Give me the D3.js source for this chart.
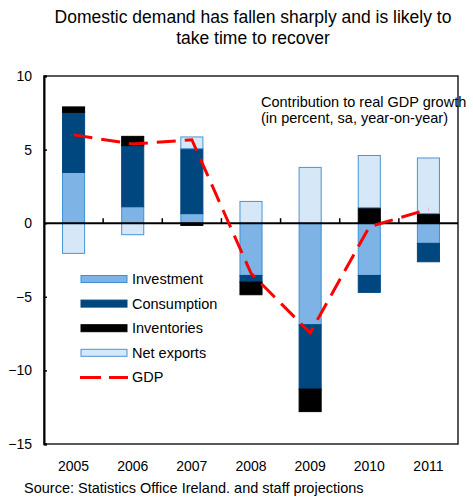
<!DOCTYPE html>
<html>
<head>
<meta charset="utf-8">
<script src="https://cdn.jsdelivr.net/npm/d3@7"></script>
<style>
  body { margin: 0; background: #fff; }
  text { font-family: "Liberation Sans", Arial, sans-serif; fill: #000; }
</style>
</head>
<body>
<div id="canvas"></div>
<script>
"use strict"

// Data (contribution to real GDP growth, percent)
let years = ["2005", "2006", "2007", "2008", "2009", "2010", "2011"];
let investment  = [3.45, 1.12, 0.65, -3.55, -6.9, -3.55, -1.37];
let consumption = [4.08, 4.15, 4.41, -0.45, -4.37, -1.15, -1.25];
let inventories = [0.37, 0.63, -0.15, -0.86, -1.53, 1.05, 0.65];
let netExports  = [-2.05, -0.78, 0.8, 1.48, 3.79, 3.55, 3.78];
let gdp         = [6.0, 5.38, 5.67, -3.4, -7.45, -0.25, 0.95];
let yTicks = [10, 5, 0, -5, -10, -15];

let seriesNames = ["Investment", "Consumption", "Inventories", "Net exports"];
let seriesValues = [investment, consumption, inventories, netExports];
let fills = ["#7db4e5", "#00467f", "#000000", "#d6e8f8"];
let strokes = ["#3d8fd6", "#00467f", "#000000", "#4a94d6"];

let svgWidth = 473;
let svgHeight = 498;
let margin = { top: 76, right: 15, bottom: 54, left: 44 };

let svg = d3.select("#canvas")
    .append("svg")
    .attr("width", svgWidth)
    .attr("height", svgHeight);

let xScale = d3.scaleBand()
    .domain(years)
    .range([margin.left, svgWidth - margin.right])
    .paddingInner(0.61)
    .paddingOuter(0.305);

let yScale = d3.scaleLinear()
    .domain([-15, 10])
    .range([svgHeight - margin.bottom, margin.top]);

// title
svg.append("text")
    .attr("x", 253).attr("y", 23)
    .attr("text-anchor", "middle")
    .style("font-size", "17.5px")
    .text("Domestic demand has fallen sharply and is likely to");
svg.append("text")
    .attr("x", 253).attr("y", 44)
    .attr("text-anchor", "middle")
    .style("font-size", "17.5px")
    .text("take time to recover");

// diverging stacks: positives up from 0, negatives down from 0
let table = years.map(function(y, i) {
    let row = { year: y };
    seriesNames.forEach(function(name, s) { row[name] = seriesValues[s][i]; });
    return row;
});
let stacked = d3.stack()
    .keys(seriesNames)
    .offset(d3.stackOffsetDiverging)(table);

stacked.forEach(function(layer, s) {
    svg.append("g")
        .selectAll("rect")
        .data(layer)
        .join("rect")
        .attr("x", function(d) { return xScale(d.data.year) + 0.5; })
        .attr("width", xScale.bandwidth() - 1)
        .attr("y", function(d) { return yScale(Math.max(d[0], d[1])); })
        .attr("height", function(d) { return Math.abs(yScale(d[0]) - yScale(d[1])); })
        .attr("fill", fills[s])
        .attr("stroke", strokes[s])
        .attr("stroke-width", 1);
});

// frame
let x0 = margin.left, x1 = svgWidth - margin.right;
let yTop = yScale(10), yBot = yScale(-15);
svg.append("rect")
    .attr("x", x0).attr("y", yTop)
    .attr("width", x1 - x0).attr("height", yBot - yTop)
    .attr("fill", "none")
    .attr("stroke", "#222")
    .attr("stroke-width", 1.5);

// zero line with category ticks
svg.append("line")
    .attr("x1", x0).attr("x2", x1)
    .attr("y1", yScale(0)).attr("y2", yScale(0))
    .attr("stroke", "#000").attr("stroke-width", 2);
let step = xScale.step();
svg.append("g")
    .selectAll("line")
    .data(years.slice(1))
    .join("line")
    .attr("x1", function(d) { return xScale(d) - step * 0.305; })
    .attr("x2", function(d) { return xScale(d) - step * 0.305; })
    .attr("y1", yScale(0)).attr("y2", yScale(0) - 5)
    .attr("stroke", "#000").attr("stroke-width", 1.5);

// y axis
let yAxis = d3.axisLeft(yScale).tickValues(yTicks).tickSize(-3).tickPadding(12);
let gy = svg.append("g")
    .attr("transform", "translate(" + x0 + ",0)")
    .call(yAxis);
gy.select(".domain").attr("stroke", "#000").attr("stroke-width", 2);
gy.selectAll(".tick line").attr("stroke", "#000").attr("stroke-width", 1.5);
gy.selectAll(".tick text")
    .style("font-size", "14px")
    .style("font-family", "Liberation Sans, Arial, sans-serif")
    .attr("fill", "#000");

// x labels
svg.append("g")
    .selectAll("text")
    .data(years)
    .join("text")
    .attr("x", function(d) { return xScale(d) + xScale.bandwidth() / 2; })
    .attr("y", yBot + 27)
    .attr("text-anchor", "middle")
    .style("font-size", "14px")
    .text(function(d) { return d; });

// GDP line
let line = d3.line()
    .x(function(d, i) { return xScale(years[i]) + xScale.bandwidth() / 2; })
    .y(function(d) { return yScale(d); });
svg.append("path")
    .datum(gdp)
    .attr("d", line)
    .attr("fill", "none")
    .attr("stroke", "#ff0000")
    .attr("stroke-width", 3)
    .attr("stroke-dasharray", "19,9");

// annotation
svg.append("text")
    .attr("x", 261).attr("y", 107)
    .style("font-size", "14.5px")
    .text("Contribution to real GDP growth");
svg.append("text")
    .attr("x", 261).attr("y", 123)
    .style("font-size", "14.5px")
    .text("(in percent, sa, year-on-year)");

// legend
let legendX = 81;
let legendY = 279;
let legendStep = 24.6;
seriesNames.forEach(function(name, s) {
    let cy = legendY + s * legendStep;
    svg.append("rect")
        .attr("x", legendX).attr("y", cy - 3.5)
        .attr("width", 46).attr("height", 7)
        .attr("fill", fills[s])
        .attr("stroke", strokes[s])
        .attr("stroke-width", 1);
    svg.append("text")
        .attr("x", legendX + 51).attr("y", cy + 5)
        .style("font-size", "14.5px")
        .text(name);
});
let gdpY = legendY + 4 * legendStep;
svg.append("line")
    .attr("x1", legendX - 1).attr("x2", legendX + 47)
    .attr("y1", gdpY).attr("y2", gdpY)
    .attr("stroke", "#ff0000").attr("stroke-width", 3)
    .attr("stroke-dasharray", "21,8");
svg.append("text")
    .attr("x", legendX + 51).attr("y", gdpY + 5)
    .style("font-size", "14.5px")
    .text("GDP");

// source
svg.append("text")
    .attr("x", 24).attr("y", 493)
    .style("font-size", "14.5px")
    .text("Source: Statistics Office Ireland. and staff projections");
</script>
</body>
</html>
